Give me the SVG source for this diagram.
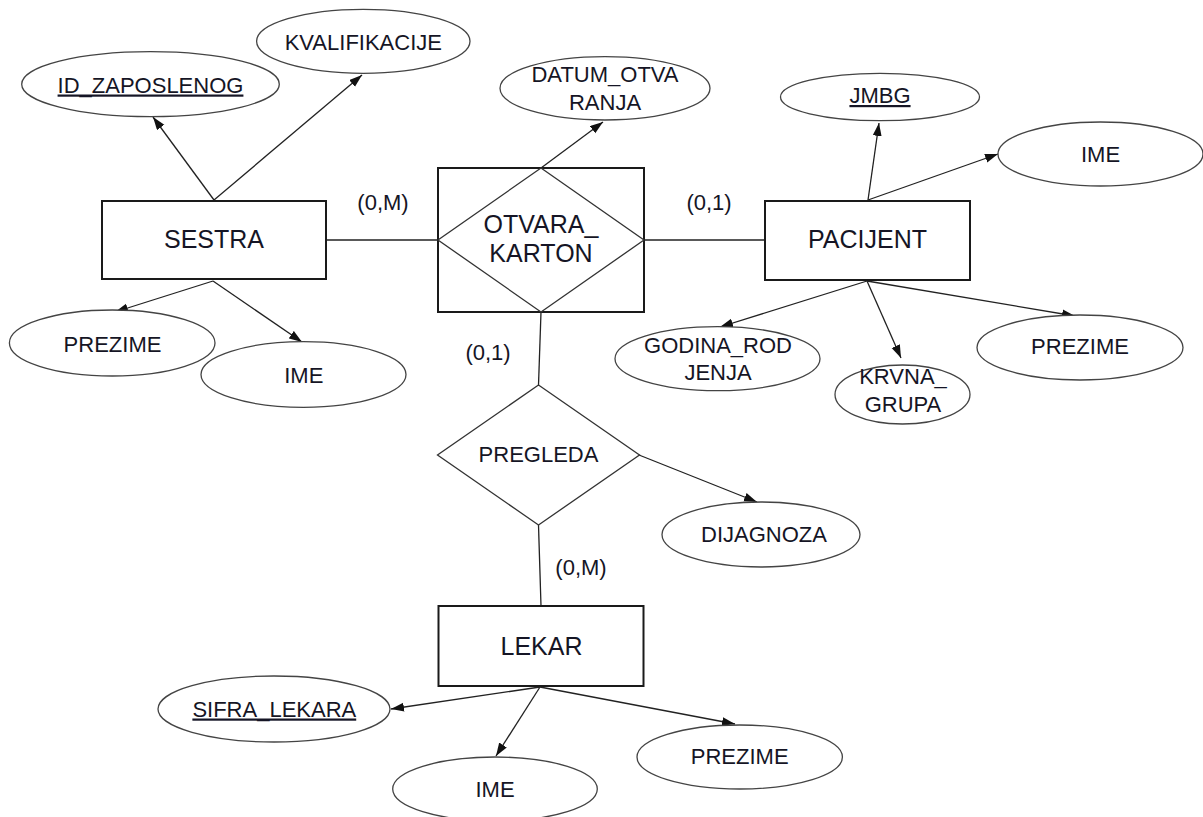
<svg xmlns="http://www.w3.org/2000/svg" width="1203" height="817" viewBox="0 0 1203 817">
<style>
  .ent { fill: #ffffff; stroke: #1a1a1a; stroke-width: 2; }
  .rel { fill: none; stroke: #333333; stroke-width: 1.3; }
  .att { fill: #ffffff; stroke: #444444; stroke-width: 1.3; }
  .con { fill: none; stroke: #222222; stroke-width: 1.3; }
  .arr { fill: none; stroke: #222222; stroke-width: 1.3; marker-end: url(#ah); }
  text { font-family: "Liberation Sans", Arial, sans-serif; fill: #151525; text-anchor: middle; }
  .t22 { font-size: 22px; }
  .t25 { font-size: 25px; }
  .key { text-decoration: underline; }
</style>
<defs>
  <marker id="ah" markerUnits="userSpaceOnUse" markerWidth="14" markerHeight="10" refX="13" refY="4.5" orient="auto">
    <path d="M0,0 L13,4.5 L0,9 z" fill="#111111"/>
  </marker>
</defs>

<g id="connectors">
  <!-- SESTRA -->
  <line class="arr" x1="214" y1="200" x2="153" y2="117"/>
  <line class="arr" x1="214" y1="200" x2="362" y2="75"/>
  <line class="arr" x1="213" y1="281" x2="115" y2="312"/>
  <line class="arr" x1="213" y1="281" x2="302" y2="342"/>
  <line class="con" x1="326" y1="240" x2="438" y2="240"/>
  <!-- OTVARA_KARTON -->
  <line class="arr" x1="541" y1="168" x2="603" y2="122"/>
  <line class="con" x1="644" y1="240" x2="765" y2="240"/>
  <line class="con" x1="541" y1="312" x2="538.5" y2="385"/>
  <!-- PACIJENT -->
  <line class="arr" x1="868" y1="200" x2="879" y2="123"/>
  <line class="arr" x1="868" y1="200" x2="998" y2="154"/>
  <line class="arr" x1="867" y1="281" x2="720" y2="327"/>
  <line class="arr" x1="867" y1="281" x2="901" y2="358"/>
  <line class="arr" x1="867" y1="281" x2="1075" y2="316"/>
  <!-- PREGLEDA -->
  <line class="arr" x1="639" y1="455" x2="757" y2="502"/>
  <line class="con" x1="538.5" y1="525" x2="541" y2="606"/>
  <!-- LEKAR -->
  <line class="arr" x1="540" y1="687" x2="391" y2="709"/>
  <line class="arr" x1="540" y1="687" x2="496" y2="756"/>
  <line class="arr" x1="540" y1="687" x2="735" y2="724"/>
</g>

<g id="labels">
  <text class="t22" x="383" y="210">(0,M)</text>
  <text class="t22" x="709" y="210">(0,1)</text>
  <text class="t22" x="488" y="360">(0,1)</text>
  <text class="t22" x="581" y="575">(0,M)</text>
</g>

<g id="sestra">
  <rect class="ent" x="102" y="201" width="224" height="78"/>
  <text class="t25" x="214" y="248">SESTRA</text>
</g>
<g id="id_zaposlenog">
  <ellipse class="att" cx="150.5" cy="84.2" rx="128.8" ry="32.5"/>
  <text class="t22 key" x="150.5" y="92.5">ID_ZAPOSLENOG</text>
</g>
<g id="kvalifikacije">
  <ellipse class="att" cx="363.3" cy="41.3" rx="106.7" ry="32"/>
  <text class="t22" x="363.3" y="50">KVALIFIKACIJE</text>
</g>
<g id="sestra_prezime">
  <ellipse class="att" cx="112.2" cy="343" rx="102.8" ry="33"/>
  <text class="t22" x="112.5" y="352">PREZIME</text>
</g>
<g id="sestra_ime">
  <ellipse class="att" cx="303.5" cy="374.5" rx="102.5" ry="32.8"/>
  <text class="t22" x="303.8" y="383">IME</text>
</g>

<g id="otvara_karton">
  <rect class="ent" x="438" y="168" width="206" height="144"/>
  <polygon class="rel" points="541,168 644,240 541,312 438,240"/>
  <text class="t25" x="541" y="233">OTVARA_</text>
  <text class="t25" x="541" y="262">KARTON</text>
</g>
<g id="datum_otvaranja">
  <ellipse class="att" cx="605" cy="88.3" rx="105" ry="31.7"/>
  <text class="t22" x="605" y="82">DATUM_OTVA</text>
  <text class="t22" x="605" y="110">RANJA</text>
</g>

<g id="pacijent">
  <rect class="ent" x="765" y="201" width="205" height="79"/>
  <text class="t25" x="867.5" y="248">PACIJENT</text>
</g>
<g id="jmbg">
  <ellipse class="att" cx="880" cy="97" rx="99.5" ry="23.7"/>
  <text class="t22 key" x="880" y="103">JMBG</text>
</g>
<g id="pacijent_ime">
  <ellipse class="att" cx="1100.5" cy="154" rx="102.5" ry="32"/>
  <text class="t22" x="1100.5" y="162">IME</text>
</g>
<g id="godina_rodjenja">
  <ellipse class="att" cx="717.5" cy="358.7" rx="102.5" ry="32"/>
  <text class="t22" x="718" y="352.5">GODINA_ROD</text>
  <text class="t22" x="718" y="379.5">JENJA</text>
</g>
<g id="krvna_grupa">
  <ellipse class="att" cx="902.5" cy="394.5" rx="67.5" ry="29.5"/>
  <text class="t22" x="903" y="383.5">KRVNA_</text>
  <text class="t22" x="903" y="411.7">GRUPA</text>
</g>
<g id="pacijent_prezime">
  <ellipse class="att" cx="1080" cy="347.5" rx="103" ry="32.5"/>
  <text class="t22" x="1080" y="354">PREZIME</text>
</g>

<g id="pregleda">
  <polygon class="rel" points="538.5,385 639.5,455 538.5,525 437.5,455"/>
  <text class="t22" x="538.5" y="462">PREGLEDA</text>
</g>
<g id="dijagnoza">
  <ellipse class="att" cx="761" cy="534.5" rx="99" ry="32.5"/>
  <text class="t22" x="764" y="541.5">DIJAGNOZA</text>
</g>

<g id="lekar">
  <rect class="ent" x="438.5" y="606" width="205" height="80"/>
  <text class="t25" x="541.5" y="655">LEKAR</text>
</g>
<g id="sifra_lekara">
  <ellipse class="att" cx="274" cy="709" rx="116" ry="33"/>
  <text class="t22 key" x="274.3" y="716.5">SIFRA_LEKARA</text>
</g>
<g id="lekar_ime">
  <ellipse class="att" cx="495" cy="789" rx="102.3" ry="32"/>
  <text class="t22" x="495" y="797">IME</text>
</g>
<g id="lekar_prezime">
  <ellipse class="att" cx="739.7" cy="757" rx="102.7" ry="32"/>
  <text class="t22" x="739.7" y="764">PREZIME</text>
</g>
</svg>
